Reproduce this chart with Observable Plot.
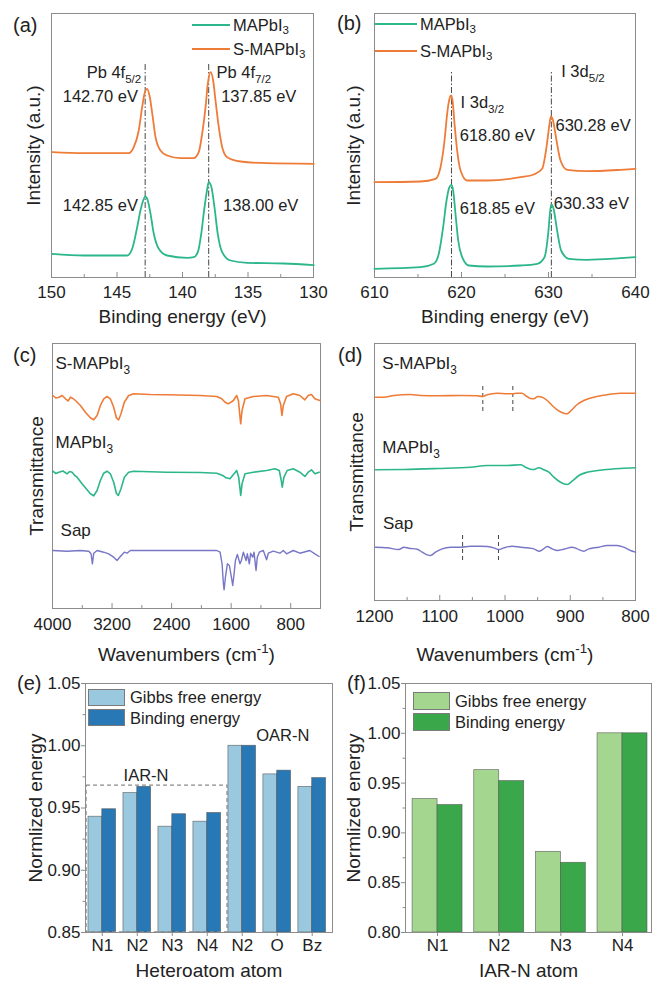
<!DOCTYPE html>
<html>
<head>
<meta charset="utf-8">
<script src="https://cdn.jsdelivr.net/npm/d3@7"></script>
<script src="https://cdn.jsdelivr.net/npm/@observablehq/plot@0.6"></script>
<style>
  html, body { margin: 0; padding: 0; background: #fff; }
  #fig { position: relative; width: 652px; height: 981px; overflow: hidden;
         font-family: "Liberation Sans", Arial, Helvetica, sans-serif; color: #222; }
  .wrap { position: absolute; }
  .plabel { position: absolute; font-size: 20px; line-height: 20px; transform: translateY(-50%); white-space: nowrap; }
  .legrow { position: absolute; display: flex; align-items: center; font-size: 16.5px; line-height: 18px;
            transform: translateY(-50%); white-space: nowrap; }
  .legrow sub { font-size: 70%; vertical-align: -0.3em; line-height: 0; }
  .sw-line { height: 2px; }
  .sw-box { box-sizing: border-box; border: 1px solid #7a7a7a; }
  [aria-label$="tick"] path { stroke: #8c8c8c; }
</style>
</head>
<body>
<div id="fig"></div>
<script>
// ================= DATA =================
// (a) XPS Pb 4f  — binding energy (eV) / intensity (a.u.)
const aE_MA = [149.95, 147.53, 144.22, 143.84, 143.46, 143.21, 143.0, 142.85, 142.65, 142.44, 142.19, 141.81, 141.17, 139.64, 139.14, 138.83, 138.57, 138.32, 138.11, 138.0, 137.79, 137.56, 137.31, 136.97, 136.34, 135.06, 132.27, 129.98];
const aI_MA = [23.7, 22, 22, 28.7, 50.3, 67, 77, 81, 77, 63.7, 43.7, 28.7, 22, 19.7, 20.3, 25.3, 43.7, 70.3, 88.7, 95.3, 90.3, 70.3, 43.7, 25.3, 17, 14.7, 14, 12.3];
const aE_S = [149.95, 147.53, 144.1, 143.72, 143.34, 143.08, 142.9, 142.7, 142.52, 142.27, 142.06, 141.68, 141.17, 140.15, 139.14, 138.76, 138.5, 138.24, 138.07, 137.85, 137.66, 137.48, 137.23, 136.97, 136.59, 135.57, 133.54, 129.98];
const aI_S = [125.3, 124.3, 124.3, 130.3, 147, 170.3, 183.7, 188.7, 182, 160.3, 140.3, 127, 122, 119.3, 119.3, 125.3, 143.7, 170.3, 193.7, 205.3, 197, 177, 150.3, 130.3, 120.3, 116, 114.3, 113.7];
const aTicks = [150, 145, 140, 135, 130];
const aMinor = [147.5, 142.5, 137.5, 132.5];
const aRefLines = [142.85, 138.0];
const aRefSpan = [0, 215];
const aNotes = [
  {t: "Pb 4f_{5/2}", x: 143.15, y: 205, a: "end"},
  {t: "142.70 eV", x: 143.4, y: 181, a: "end"},
  {t: "Pb 4f_{7/2}", x: 137.4, y: 205, a: "start"},
  {t: "137.85 eV", x: 137.05, y: 181, a: "start"},
  {t: "142.85 eV", x: 143.4, y: 72, a: "end"},
  {t: "138.00 eV", x: 136.9, y: 72, a: "start"}
];

// (b) XPS I 3d
const bE_MA = [610, 615.29, 616.82, 617.39, 617.89, 618.28, 618.58, 618.85, 619.04, 619.31, 619.62, 620.08, 620.84, 622.95, 626.78, 628.7, 629.54, 629.96, 630.2, 630.33, 630.58, 630.99, 631.45, 632.34, 634.45, 638.28, 640];
const bI_MA = [8.7, 10.3, 13.7, 23.7, 50.3, 77, 89.7, 92.7, 87, 63.7, 37, 20.3, 12, 11, 12, 13.7, 20.3, 43.7, 67, 73, 68.7, 47, 27, 18.7, 17.7, 19.3, 20.3];
const bE_S = [610, 615.29, 617.01, 617.59, 618.05, 618.35, 618.62, 618.8, 618.97, 619.2, 619.5, 619.89, 620.65, 622.95, 626.78, 628.31, 629.27, 629.77, 630.12, 630.28, 630.52, 630.92, 631.38, 632.15, 634.45, 638.28, 640];
const bI_S = [95.3, 96, 98.7, 110.3, 137, 163.7, 178.7, 182, 177, 153.7, 127, 107, 97, 97, 100.3, 103, 108.7, 130.3, 153.7, 161, 157, 137, 117, 107.7, 106.3, 107.7, 108.7];
const bTicks = [610, 620, 630, 640];
const bMinor = [615, 625, 635];
const bRefLines = [618.85, 630.33];
const bRefSpan = [0, 207];
const bNotes = [
  {t: "I 3d_{3/2}", x: 619.89, y: 175, a: "start"},
  {t: "618.80 eV", x: 619.8, y: 142, a: "start"},
  {t: "I 3d_{5/2}", x: 631.46, y: 206, a: "start"},
  {t: "630.28 eV", x: 630.8, y: 152, a: "start"},
  {t: "618.85 eV", x: 619.8, y: 69, a: "start"},
  {t: "630.33 eV", x: 630.61, y: 74, a: "start"}
];

// (c) FTIR full range — wavenumber (cm-1) / transmittance (offset)
const cW_S = [3995, 3955, 3915, 3870, 3826, 3790, 3759, 3725, 3692, 3625, 3558, 3491, 3446, 3401, 3357, 3312, 3267, 3223, 3178, 3142, 3111, 3080, 3035, 2977, 2910, 2687, 2464, 2017, 1793, 1726, 1682, 1637, 1570, 1526, 1503, 1481, 1472, 1454, 1414, 1302, 1124, 967, 936, 918, 900, 856, 766, 677, 610, 565, 521, 476, 409];
const cT_S = [213, 210.5, 211.3, 213, 209.7, 207.5, 211.3, 210, 208, 203, 196.3, 190.7, 188.7, 193, 203, 209.7, 212, 209.7, 201.3, 190.7, 188.7, 194.7, 206.3, 213, 214.7, 214, 213.7, 213, 212, 209.7, 206.3, 204.7, 208, 213, 208, 191.3, 184.7, 198, 209.7, 212, 213, 211.3, 204.7, 193, 203, 212, 214.7, 213, 208.7, 213, 214, 209.7, 208];
const cW_MA = [3995, 3955, 3915, 3860, 3804, 3770, 3737, 3700, 3670, 3603, 3536, 3491, 3446, 3401, 3357, 3312, 3267, 3223, 3178, 3142, 3116, 3080, 3035, 2977, 2910, 2464, 2017, 1793, 1713, 1668, 1615, 1561, 1526, 1499, 1481, 1472, 1454, 1414, 1302, 1124, 1012, 954, 927, 914, 891, 847, 766, 677, 610, 565, 521, 476, 418];
const cT_MA = [137.3, 135, 136.3, 137.5, 134.7, 137, 136.3, 133, 131.3, 124.7, 118.7, 114.7, 112.7, 118, 128, 135.3, 137.3, 134.7, 126.3, 115.3, 113, 119.7, 131.3, 136.3, 137.3, 136.3, 136, 135.3, 133, 130.7, 129.7, 134.7, 138, 131.3, 119.7, 113, 124.7, 134.7, 136.3, 138, 139.7, 138, 128, 121.3, 131.3, 138, 139.7, 136.3, 132, 136.3, 138.7, 134.7, 136.3];
const cW_Sap = [3995, 3804, 3625, 3513, 3482, 3464, 3446, 3401, 3312, 3245, 3178, 3133, 3089, 3035, 2999, 2955, 2821, 2464, 2017, 1793, 1749, 1722, 1704, 1695, 1677, 1651, 1624, 1597, 1579, 1561, 1543, 1517, 1481, 1463, 1436, 1400, 1383, 1356, 1338, 1311, 1293, 1266, 1249, 1222, 1168, 1124, 1101, 1034, 945, 900, 856, 766, 677, 543, 476, 418];
const cT_Sap = [58, 57.3, 58, 57.3, 54.7, 44.7, 55.3, 58, 56.3, 54.7, 51.3, 48, 52, 56.3, 55.3, 58, 58, 58, 58, 58, 56.3, 44.7, 24.7, 18.7, 31.3, 44.7, 43, 31.3, 23, 34.7, 48, 54, 44.7, 48, 56.3, 48, 54.7, 44.7, 55.3, 51.3, 56.3, 38, 51.3, 56.3, 58, 48.7, 55.3, 57.3, 55.3, 58, 54.7, 58, 55.3, 58, 54.7, 52];
const cTicks = [4000, 3200, 2400, 1600, 800];
const cMinor = [3600, 2800, 2000, 1200];
const cNotes = [
  {t: "S-MAPbI_{3}", x: 3960, y: 245, a: "start"},
  {t: "MAPbI_{3}", x: 3960, y: 166, a: "start"},
  {t: "Sap", x: 3892, y: 78, a: "start"}
];

// (d) FTIR 1200–800 cm-1
const dW_S = [1198.5, 1185.7, 1170.4, 1144.8, 1129.5, 1103.9, 1068.2, 1042.6, 1034, 1027.3, 1012, 996.6, 989, 981.3, 973.6, 968.6, 960.9, 955.8, 949.7, 943, 935.3, 927.7, 920, 909.9, 904.7, 898.6, 889.4, 879.2, 863.9, 848.6, 823, 800];
const dT_S = [203.3, 203.3, 205, 206, 205, 204.7, 205, 204.7, 204, 205.7, 207.3, 206.7, 206.7, 207.3, 207.3, 205, 202, 201.7, 204, 203.3, 200, 195, 190.7, 187.3, 186.7, 190, 196, 200, 203.3, 205.3, 207.3, 207.3];
const dW_MA = [1198.5, 1155, 1103.9, 1052.8, 1027.3, 996.6, 976.2, 968.6, 960.9, 955.8, 948.2, 940.5, 932.8, 925.2, 915, 904.7, 897.1, 886.8, 874.1, 848.6, 823, 800];
const dT_MA = [130.7, 131, 132, 133.3, 135, 135, 135.7, 133.3, 131.3, 131, 132.7, 130.7, 128.3, 123.3, 118.3, 116, 119.3, 125, 128.3, 130.7, 132, 132.7];
const dW_Sap = [1198.5, 1180.6, 1162.7, 1155, 1147.4, 1134.6, 1126.9, 1119.3, 1114.2, 1106.5, 1096.3, 1083.5, 1068.2, 1052.8, 1037.5, 1027.3, 1017.1, 1009.4, 1001.7, 989, 976.2, 966, 955.8, 948.2, 941.5, 935.3, 927.7, 920, 909.9, 897.1, 889.4, 879.2, 871.5, 863.9, 856.2, 843.5, 828.1, 817.9, 807.7, 800];
const dT_Sap = [53.3, 52.7, 51, 53.3, 52.3, 51.3, 48.3, 45.7, 45, 48.3, 51.7, 53.3, 53.3, 54.3, 54.3, 54, 52.7, 51, 52.7, 54.3, 53.3, 52.7, 51.7, 49.3, 51.3, 54, 51.7, 50, 51.3, 53.3, 51.7, 49.3, 51.7, 52.7, 53.3, 55, 55, 53.3, 50, 48.3];
const dTicks = [1200, 1100, 1000, 900, 800];
const dMinor = [1150, 1050, 950, 850];
const dMarksS = [1034, 988], dMarksSSpan = [189, 217];
const dMarksSap = [1065, 1010], dMarksSapSpan = [40, 68];
const dNotes = [
  {t: "S-MAPbI_{3}", x: 1188, y: 237, a: "start"},
  {t: "MAPbI_{3}", x: 1188, y: 153, a: "start"},
  {t: "Sap", x: 1187, y: 77, a: "start"}
];

// (e) heteroatom energies
const eCats = ["N1", "N2", "N3", "N4", "N2", "O", "Bz"];
const eGibbs = [0.943, 0.962, 0.935, 0.939, 1.000, 0.977, 0.967];
const eBind = [0.949, 0.967, 0.945, 0.946, 1.000, 0.980, 0.974];
const eYDomain = [0.85, 1.05];
const eYTicks = [0.85, 0.90, 0.95, 1.00, 1.05];
const eYMinor = [0.875, 0.925, 0.975, 1.025];
const eBoxX = [-0.45, 3.58], eBoxY = [0.85, 0.968];
const eNotes = [
  {t: "IAR-N", x: 1.25, y: 0.976},
  {t: "OAR-N", x: 5.16, y: 1.008}
];

// (f) IAR-N atom energies
const fCats = ["N1", "N2", "N3", "N4"];
const fGibbs = [0.934, 0.963, 0.881, 1.000];
const fBind = [0.928, 0.952, 0.870, 1.000];
const fYDomain = [0.80, 1.05];
const fYTicks = [0.80, 0.85, 0.90, 0.95, 1.00, 1.05];
const fYMinor = [0.825, 0.875, 0.925, 0.975, 1.025];

const legendSeries = ["MAPbI_{3}", "S-MAPbI_{3}"];
const legendBars = ["Gibbs free energy", "Binding energy"];

// ================= STYLE =================
const ORANGE = "#ee7c38", GREEN = "#2cb68b", PURPLE = "#7876c6";
const LBLUE = "#9ac8df", DBLUE = "#2878b5", LGREEN = "#a4d690", DGREEN = "#3aa74a";
const FRAME = "#8c8c8c", INK = "#222", FONT = '"Liberation Sans", Arial, Helvetica, sans-serif';

const fig = document.getElementById("fig");
const NS = "http://www.w3.org/2000/svg";

function richText(root) {
  root.querySelectorAll("text").forEach(t => {
    if (t.querySelector("tspan")) return;
    const s = t.textContent;
    if (!/[_^]\{/.test(s)) return;
    t.textContent = "";
    const re = /([_^])\{([^}]*)\}/g;
    let last = 0, m, off = 0;
    const seg = (str, small, target) => {
      const ts = document.createElementNS(NS, "tspan");
      const delta = target - off;
      if (delta) ts.setAttribute("dy", (small ? delta / 0.7 : delta).toFixed(3) + "em");
      if (small) ts.setAttribute("font-size", "70%");
      ts.textContent = str;
      t.appendChild(ts);
      off = target;
    };
    while ((m = re.exec(s))) {
      if (m.index > last) seg(s.slice(last, m.index), false, 0);
      seg(m[2], true, m[1] === "_" ? 0.3 : -0.42);
      last = re.lastIndex;
    }
    if (last < s.length) seg(s.slice(last), false, 0);
  });
}
const toHtml = s => s.replace(/_\{([^}]*)\}/g, "<sub>$1</sub>");

function place(svg, left, top) {
  const w = document.createElement("div");
  w.className = "wrap";
  w.style.left = left + "px"; w.style.top = top + "px";
  w.appendChild(svg);
  fig.appendChild(w);
  richText(svg);
}

const svgStyle = {background: "none", overflow: "visible", maxWidth: "none", fontFamily: FONT, fontSize: "17px", color: INK};

function titles(xTitle, xDy, yTitle, yDx) {
  return [
    Plot.text([xTitle], {text: d => d, frameAnchor: "bottom", textAnchor: "middle", lineAnchor: "middle", dy: xDy, fontSize: 19, fill: INK}),
    Plot.text([yTitle], {text: d => d, frameAnchor: "left", textAnchor: "middle", lineAnchor: "middle", rotate: -90, dx: yDx, fontSize: 19, fill: INK})
  ];
}

function spectrumPanel(c) {
  const fh = c.height - c.mt - c.mb;
  const svg = Plot.plot({
    width: c.width, height: c.height,
    marginLeft: c.ml, marginRight: c.mr, marginTop: c.mt, marginBottom: c.mb,
    style: svgStyle,
    x: {domain: c.xDomain, ticks: c.ticks, tickSize: 0, tickPadding: c.tickPad, tickFormat: d => String(d), label: null},
    y: {domain: [0, fh], axis: null},
    marks: [
      Plot.frame({stroke: FRAME}),
      Plot.tickX(c.ticks, {x: d => d, insetTop: fh - 5, stroke: FRAME}),
      Plot.tickX(c.minor, {x: d => d, insetTop: fh - 3, stroke: FRAME}),
      ...c.extra,
      ...c.series.map(s => Plot.line(d3.zip(s.x, s.y), {x: d => d[0], y: d => d[1], curve: s.curve, stroke: s.color, strokeWidth: s.w})),
      Plot.text(c.notes.filter(d => d.a === "start"), {x: "x", y: "y", text: "t", textAnchor: "start", fontSize: c.noteSize, fill: INK}),
      Plot.text(c.notes.filter(d => d.a === "end"), {x: "x", y: "y", text: "t", textAnchor: "end", fontSize: c.noteSize, fill: INK}),
      ...titles(c.xTitle, c.xTitleDy, c.yTitle, c.yTitleDx)
    ]
  });
  place(svg, c.left, c.top);
}

function barPanel(c) {
  const fw = c.width - c.ml - c.mr;
  const rows = c.cats.map((cat, i) => ({i, cat, g: c.gibbs[i], b: c.bind[i]}));
  const svg = Plot.plot({
    width: c.width, height: c.height,
    marginLeft: c.ml, marginRight: c.mr, marginTop: c.mt, marginBottom: c.mb,
    style: svgStyle,
    x: {domain: c.xDomain, ticks: d3.range(c.cats.length), tickFormat: i => c.cats[i], tickSize: 4, tickPadding: 2, label: null},
    y: {domain: c.yDomain, ticks: c.yTicks, tickFormat: d3.format(".2f"), tickSize: 4, tickPadding: 1, label: null},
    marks: [
      Plot.rect(rows, {x1: d => d.i - c.half, x2: d => d.i, y1: c.yDomain[0], y2: d => d.g, fill: c.light, stroke: "#555", strokeWidth: 0.7, strokeOpacity: 0.8}),
      Plot.rect(rows, {x1: d => d.i, x2: d => d.i + c.half, y1: c.yDomain[0], y2: d => d.b, fill: c.dark, stroke: "#555", strokeWidth: 0.7, strokeOpacity: 0.8}),
      ...c.extra,
      Plot.tickY(c.yMinor, {y: d => d, insetLeft: -2.5, insetRight: fw, stroke: FRAME}),
      Plot.frame({stroke: FRAME}),
      ...titles(c.xTitle, 38, c.yTitle, c.yTitleDx)
    ]
  });
  place(svg, c.left, c.top);
}

// ================= PANELS =================
const refStyle = {stroke: "#333", strokeWidth: 0.9, strokeDasharray: "6,2,1.5,2"};

spectrumPanel({
  left: 0, top: 0, width: 320, height: 330, ml: 51, mr: 7, mt: 13, mb: 53, tickPad: 8,
  xDomain: [150, 130], ticks: aTicks, minor: aMinor,
  extra: [Plot.ruleX(aRefLines, {x: d => d, y1: aRefSpan[0], y2: aRefSpan[1], ...refStyle})],
  series: [
    {x: aE_MA, y: aI_MA, color: GREEN, w: 1.8, curve: "monotone-x"},
    {x: aE_S, y: aI_S, color: ORANGE, w: 1.8, curve: "monotone-x"}
  ],
  notes: aNotes, noteSize: 16.5,
  xTitle: "Binding energy (eV)", xTitleDy: 39, yTitle: "Intensity (a.u.)", yTitleDx: -18
});

spectrumPanel({
  left: 320, top: 0, width: 332, height: 330, ml: 54, mr: 17, mt: 13, mb: 53, tickPad: 8,
  xDomain: [610, 640], ticks: bTicks, minor: bMinor,
  extra: [Plot.ruleX(bRefLines, {x: d => d, y1: bRefSpan[0], y2: bRefSpan[1], ...refStyle})],
  series: [
    {x: bE_MA, y: bI_MA, color: GREEN, w: 1.8, curve: "monotone-x"},
    {x: bE_S, y: bI_S, color: ORANGE, w: 1.8, curve: "monotone-x"}
  ],
  notes: bNotes, noteSize: 16.5,
  xTitle: "Binding energy (eV)", xTitleDy: 39, yTitle: "Intensity (a.u.)", yTitleDx: -21
});

spectrumPanel({
  left: 0, top: 330, width: 330, height: 340, ml: 52, mr: 10, mt: 13, mb: 62, tickPad: 9,
  xDomain: [4000, 400], ticks: cTicks, minor: cMinor,
  extra: [],
  series: [
    {x: cW_S, y: cT_S, color: ORANGE, w: 1.6, curve: "linear"},
    {x: cW_MA, y: cT_MA, color: GREEN, w: 1.6, curve: "linear"},
    {x: cW_Sap, y: cT_Sap, color: PURPLE, w: 1.4, curve: "linear"}
  ],
  notes: cNotes, noteSize: 17,
  xTitle: "Wavenumbers (cm^{-1})", xTitleDy: 46, yTitle: "Transmittance", yTitleDx: -16
});

const dashStyle = {stroke: "#444", strokeWidth: 1, strokeDasharray: "4,3"};
spectrumPanel({
  left: 320, top: 330, width: 332, height: 340, ml: 54, mr: 17, mt: 13, mb: 70, tickPad: 9,
  xDomain: [1200, 800], ticks: dTicks, minor: dMinor,
  extra: [
    Plot.ruleX(dMarksS, {x: d => d, y1: dMarksSSpan[0], y2: dMarksSSpan[1], ...dashStyle}),
    Plot.ruleX(dMarksSap, {x: d => d, y1: dMarksSapSpan[0], y2: dMarksSapSpan[1], ...dashStyle})
  ],
  series: [
    {x: dW_S, y: dT_S, color: ORANGE, w: 1.6, curve: "monotone-x"},
    {x: dW_MA, y: dT_MA, color: GREEN, w: 1.6, curve: "monotone-x"},
    {x: dW_Sap, y: dT_Sap, color: PURPLE, w: 1.4, curve: "monotone-x"}
  ],
  notes: dNotes, noteSize: 17,
  xTitle: "Wavenumbers (cm^{-1})", xTitleDy: 54, yTitle: "Transmittance", yTitleDx: -18
});

barPanel({
  left: 0, top: 650, width: 336, height: 331, ml: 85, mr: 4, mt: 33, mb: 49,
  cats: eCats, gibbs: eGibbs, bind: eBind, half: 0.395,
  xDomain: [-0.48, 6.58], yDomain: eYDomain, yTicks: eYTicks, yMinor: eYMinor,
  light: LBLUE, dark: DBLUE,
  extra: [
    Plot.rect([0], {x1: eBoxX[0], x2: eBoxX[1], y1: eBoxY[0], y2: eBoxY[1], fill: "none", stroke: "#8a8a8a", strokeWidth: 1.3, strokeDasharray: "4,3"}),
    Plot.text(eNotes, {x: "x", y: "y", text: "t", fontSize: 16.5, fill: INK})
  ],
  xTitle: "Heteroatom atom", yTitle: "Normlized energy", yTitleDx: -50
});

barPanel({
  left: 320, top: 650, width: 332, height: 331, ml: 85, mr: 1, mt: 33, mb: 49,
  cats: fCats, gibbs: fGibbs, bind: fBind, half: 0.405,
  xDomain: [-0.52, 3.47], yDomain: fYDomain, yTicks: fYTicks, yMinor: fYMinor,
  light: LGREEN, dark: DGREEN,
  extra: [],
  xTitle: "IAR-N atom", yTitle: "Normlized energy", yTitleDx: -52
});

// ================= LABELS & LEGENDS (HTML overlays) =================
[["(a)", 13, 25], ["(b)", 337, 23], ["(c)", 13, 355], ["(d)", 338, 355], ["(e)", 17, 683], ["(f)", 347, 683]]
  .forEach(([t, x, y]) => {
    const d = document.createElement("div");
    d.className = "plabel"; d.textContent = t;
    d.style.left = x + "px"; d.style.top = y + "px";
    fig.appendChild(d);
  });

function lineLegend(labels, colors, x, rowsY, lineW) {
  labels.forEach((lab, i) => {
    const r = document.createElement("div");
    r.className = "legrow";
    r.style.left = x + "px"; r.style.top = rowsY[i] + "px";
    r.innerHTML = `<span class="sw-line" style="width:${lineW}px;background:${colors[i]};margin-right:3px"></span><span>${toHtml(lab)}</span>`;
    fig.appendChild(r);
  });
}
function boxLegend(labels, colors, x, rowsY, w, h) {
  labels.forEach((lab, i) => {
    const r = document.createElement("div");
    r.className = "legrow";
    r.style.left = x + "px"; r.style.top = rowsY[i] + "px";
    r.innerHTML = `<span class="sw-box" style="width:${w}px;height:${h}px;background:${colors[i]};margin-right:5px"></span><span>${lab}</span>`;
    fig.appendChild(r);
  });
}
lineLegend(legendSeries, [GREEN, ORANGE], 192, [25, 48.5], 38);
lineLegend(legendSeries, [GREEN, ORANGE], 375, [23.5, 50.5], 42);
boxLegend(legendBars, [LBLUE, DBLUE], 88, [697, 717.5], 37, 17);
boxLegend(legendBars, [LGREEN, DGREEN], 413, [701, 721.5], 37, 18);
</script>
</body>
</html>
